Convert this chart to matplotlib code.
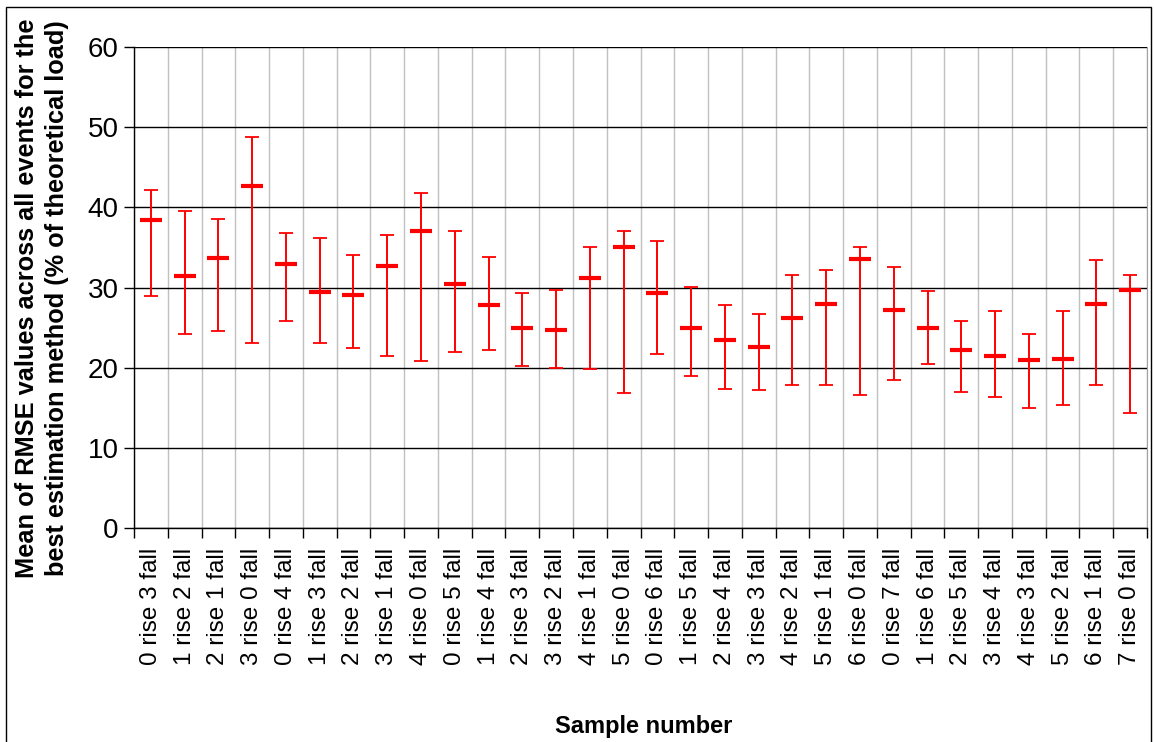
import numpy as np
import matplotlib
matplotlib.use("Agg")
import matplotlib.pyplot as plt
from matplotlib.patches import Rectangle

plt.rcParams['font.family'] = ['Liberation Sans', 'DejaVu Sans']

# sample labels (rise / fall counts)
samples = ["0 rise 3 fall", "1 rise 2 fall", "2 rise 1 fall", "3 rise 0 fall",
           "0 rise 4 fall", "1 rise 3 fall", "2 rise 2 fall", "3 rise 1 fall", "4 rise 0 fall",
           "0 rise 5 fall", "1 rise 4 fall", "2 rise 3 fall", "3 rise 2 fall", "4 rise 1 fall",
           "5 rise 0 fall",
           "0 rise 6 fall", "1 rise 5 fall", "2 rise 4 fall", "3 rise 3 fall", "4 rise 2 fall",
           "5 rise 1 fall", "6 rise 0 fall",
           "0 rise 7 fall", "1 rise 6 fall", "2 rise 5 fall", "3 rise 4 fall", "4 rise 3 fall",
           "5 rise 2 fall", "6 rise 1 fall", "7 rise 0 fall"]

mean_rmse = [38.4, 31.4, 33.7, 42.6, 32.9, 29.5, 29.1, 32.7, 37.1, 30.4,
             27.8, 24.9, 24.7, 31.2, 35.0, 29.3, 24.9, 23.4, 22.6, 26.2,
             27.9, 33.5, 27.2, 24.9, 22.2, 21.4, 20.9, 21.1, 27.9, 29.7]
high_rmse = [42.1, 39.5, 38.5, 48.8, 36.8, 36.2, 34.1, 36.6, 41.8, 37.0,
             33.8, 29.3, 29.7, 35.1, 37.0, 35.8, 30.1, 27.8, 26.7, 31.5,
             32.2, 35.1, 32.6, 29.6, 25.8, 27.1, 24.2, 27.1, 33.4, 31.5]
low_rmse = [29.0, 24.2, 24.6, 23.1, 25.8, 23.1, 22.5, 21.4, 20.8, 21.9,
            22.2, 20.2, 20.0, 19.8, 16.8, 21.7, 18.9, 17.4, 17.2, 17.9,
            17.9, 16.6, 18.5, 20.4, 17.0, 16.4, 15.0, 15.3, 17.9, 14.3]

mean = np.array(mean_rmse)
yerr = [mean - np.array(low_rmse), np.array(high_rmse) - mean]
x = np.arange(len(samples))

fig = plt.figure(figsize=(11.54, 7.42), dpi=100)
ax = fig.add_axes([134 / 1154, 1 - 528 / 742, (1147 - 134) / 1154, (528 - 47) / 742])

ax.errorbar(x, mean, yerr=yerr, fmt='none', ecolor='#ff0000',
            elinewidth=1.4, capsize=4.7, capthick=1.3, zorder=3)
ax.plot(x, mean, linestyle='none', marker='_', color='#ff0000',
        markersize=16.5, mew=3.0, zorder=4)

ax.set_xlim(-0.5, len(samples) - 0.5)
ax.set_ylim(0, 60)
ax.set_yticks(np.arange(0, 61, 10))
ax.tick_params(axis='y', labelsize=20, length=7, width=1, direction='out', pad=4)

ax.set_xticks(np.arange(len(samples) + 1) - 0.5)
ax.set_xticklabels([])
ax.tick_params(axis='x', which='major', length=7, width=1, direction='out')
ax.set_xticks(x, minor=True)
ax.set_xticklabels(samples, minor=True, rotation=90, fontsize=17.5)
ax.tick_params(axis='x', which='minor', length=0, pad=14)

ax.grid(axis='y', color='black', linewidth=1, zorder=0)
ax.grid(axis='x', which='major', color='#c0c0c0', linewidth=1, zorder=0)
ax.set_axisbelow(True)

ax.spines['top'].set_visible(False)
ax.spines['right'].set_color('#a0a0a0')
ax.spines['left'].set_linewidth(1)
ax.spines['bottom'].set_linewidth(1)

fig.text(42 / 1154, 1 - 298 / 742,
         "Mean of RMSE values across all events for the\nbest estimation method (% of theoretical load)",
         rotation=90, ha='center', va='center', fontsize=18.3, fontweight='bold', linespacing=1.35)
fig.text(644 / 1154, 1 - 726 / 742, "Sample number", ha='center', va='center',
         fontsize=17, fontweight='bold')

# outer chart border
fig.patches.append(Rectangle((6 / 1154, -0.05), 1145 / 1154, 1.05 - 7 / 742,
                             transform=fig.transFigure, fill=False, edgecolor='black', linewidth=1))

fig.savefig("out.png", dpi=100)
